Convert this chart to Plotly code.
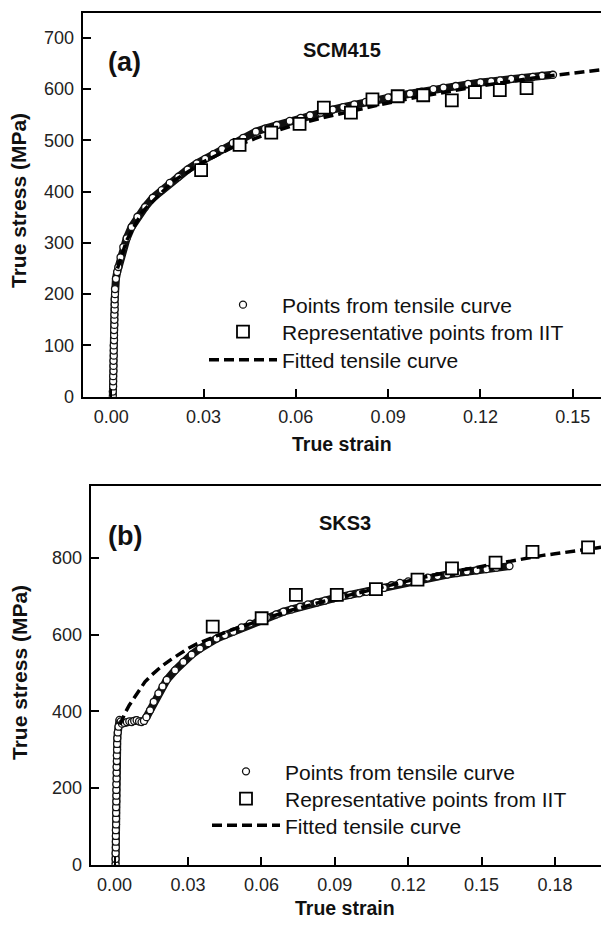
import plotly.graph_objects as go

# ---------------- data: panel (a) SCM415 ----------------
a_tensile_strain = [0.0005, 0.0005, 0.0006, 0.0006, 0.0006, 0.0007, 0.0007, 0.0007, 0.0008, 0.0008,
                    0.0008, 0.0009, 0.0009, 0.0009, 0.0010, 0.0010, 0.0010, 0.0011, 0.0011, 0.0011,
                    0.0012, 0.0012,
                    0.0015, 0.0019, 0.0023, 0.0030, 0.0039, 0.0050, 0.0066, 0.0085, 0.0110, 0.0135,
                    0.0164, 0.0190, 0.0218, 0.0248, 0.0278, 0.0305, 0.0332, 0.0360, 0.0395, 0.0429,
                    0.0470, 0.0500, 0.0538, 0.0580, 0.0616, 0.0646, 0.0680, 0.0720, 0.0754, 0.0790,
                    0.0827, 0.0863, 0.0900, 0.0935, 0.0971, 0.1008, 0.1047, 0.1080, 0.1120, 0.1160,
                    0.1200, 0.1235, 0.1264, 0.1300, 0.1335, 0.1370, 0.1400, 0.1436]
a_tensile_stress = [0, 10, 20, 30, 40, 50, 60, 70, 80, 90,
                    100, 110, 120, 130, 140, 150, 160, 170, 180, 190,
                    200, 210,
                    230, 243, 253, 272, 292, 309, 331, 351, 370, 388,
                    403, 417, 429, 443, 455, 464, 473, 483, 495, 505,
                    517, 523, 530, 538, 544, 549, 554, 560, 565, 570,
                    575, 580, 584, 587, 591, 595, 600, 603, 606, 610,
                    613, 615, 617, 620, 622, 624, 626, 628]
a_iit_strain = [0.0292, 0.0417, 0.0520, 0.0612, 0.0691, 0.0779, 0.0849, 0.0931, 0.1014,
                0.1107, 0.1182, 0.1263, 0.1350]
a_iit_stress = [442, 491, 515, 532, 564, 554, 580, 586, 588, 578, 594, 598, 602]
a_fit_strain = [0.0020, 0.0050, 0.0100, 0.0200, 0.0300, 0.0400, 0.0500, 0.0600, 0.0700,
                0.0800, 0.0900, 0.1000, 0.1100, 0.1200, 0.1300, 0.1400, 0.1500, 0.1600]
a_fit_stress = [250, 305, 360, 420, 458, 488, 511, 531, 546,
                560, 573, 585, 596, 606, 615, 624, 631, 638]

# ---------------- data: panel (b) SKS3 ----------------
b_tensile_strain = [0.0004, 0.0004, 0.0004, 0.0005, 0.0005, 0.0005, 0.0005, 0.0006, 0.0006, 0.0006,
                    0.0006, 0.0007, 0.0007, 0.0007, 0.0007, 0.0008, 0.0008, 0.0008, 0.0009, 0.0009,
                    0.0010, 0.0010, 0.0011, 0.0013,
                    0.0016, 0.0020, 0.0025, 0.0030, 0.0040, 0.0050, 0.0060, 0.0070, 0.0080, 0.0090,
                    0.0100, 0.0110, 0.0120, 0.0130, 0.0145, 0.0160, 0.0179, 0.0196, 0.0213, 0.0247,
                    0.0281, 0.0315, 0.0349, 0.0383, 0.0417, 0.0451, 0.0485, 0.0519, 0.0553, 0.0588,
                    0.0622, 0.0660, 0.0690, 0.0724, 0.0758, 0.0790, 0.0826, 0.0860, 0.0894, 0.0930,
                    0.0962, 0.1000, 0.1030, 0.1064, 0.1100, 0.1132, 0.1166, 0.1200, 0.1240, 0.1280,
                    0.1320, 0.1360, 0.1400, 0.1440, 0.1480, 0.1520, 0.1560, 0.1614]
b_tensile_stress = [0, 15, 30, 45, 60, 75, 90, 105, 120, 135,
                    150, 165, 180, 195, 210, 225, 240, 255, 270, 285,
                    300, 315, 330, 345,
                    360, 378, 374, 368, 370, 372, 374, 372, 375, 377,
                    374, 372, 375, 385, 403, 425, 447, 465, 482, 507,
                    529, 548, 564, 578, 590, 599, 608, 619, 629, 637,
                    645, 653, 660, 666, 673, 679, 684, 689, 695, 700,
                    704, 708, 712, 717, 722, 729, 735, 739, 744, 749,
                    753, 757, 761, 765, 768, 771, 775, 779]
b_iit_strain = [0.0401, 0.0601, 0.0741, 0.0908, 0.1068, 0.1238, 0.1379, 0.1557, 0.1708, 0.1935]
b_iit_stress = [621, 643, 704, 704, 719, 744, 773, 788, 816, 828]
b_fit_strain = [0.0022, 0.0030, 0.0042, 0.0060, 0.0083, 0.0104, 0.0124, 0.0150, 0.0193, 0.0230,
                0.0267, 0.0300, 0.0336, 0.0380, 0.0420, 0.0460, 0.0500, 0.0550, 0.0600, 0.0650,
                0.0700, 0.0750, 0.0800, 0.0850, 0.0900, 0.0950, 0.1000, 0.1050, 0.1100, 0.1150,
                0.1200, 0.1250, 0.1300, 0.1350, 0.1400, 0.1450, 0.1500, 0.1550, 0.1600, 0.1650,
                0.1700, 0.1750, 0.1800, 0.1850, 0.1900, 0.1988]
b_fit_stress = [365, 378, 395, 416, 438, 458, 477, 494, 518, 535,
                551, 564, 576, 588, 598, 608, 617, 628, 640, 650,
                660, 669, 678, 686, 695, 702, 710, 718, 726, 734,
                741, 748, 755, 761, 767, 773, 779, 785, 791, 797,
                802, 807, 811, 816, 820, 828]

a_xticks = [0.00, 0.03, 0.06, 0.09, 0.12, 0.15]
a_yticks = [0, 100, 200, 300, 400, 500, 600, 700]
b_xticks = [0.00, 0.03, 0.06, 0.09, 0.12, 0.15, 0.18]
b_yticks = [0, 200, 400, 600, 800]

legend_names = ["Points from tensile curve", "Representative points from IIT", "Fitted tensile curve"]

W, H = 601, 927
FONT = "Liberation Sans, Arial, Helvetica, sans-serif"


def px_x(p):
    return p / W


def px_y(p):
    return 1 - p / H


fig = go.Figure()


def add_panel(xs, ys, ix, iy, fx, fy, xaxis, yaxis, legends):
    # dark band under the densely packed tensile circles
    fig.add_trace(go.Scatter(x=xs, y=ys, mode="lines", xaxis=xaxis, yaxis=yaxis,
                             line=dict(color="#111", width=8), showlegend=False,
                             hoverinfo="skip"))
    fig.add_trace(go.Scatter(x=xs, y=ys, mode="markers", xaxis=xaxis, yaxis=yaxis,
                             name=legend_names[0], legend=legends[0],
                             marker=dict(symbol="circle", size=7, color="white",
                                         line=dict(color="#111", width=1.3))))
    fig.add_trace(go.Scatter(x=fx, y=fy, mode="lines", xaxis=xaxis, yaxis=yaxis,
                             name=legend_names[2], legend=legends[2],
                             line=dict(color="black", width=3.5, dash="10px,5px")))
    fig.add_trace(go.Scatter(x=ix, y=iy, mode="markers", xaxis=xaxis, yaxis=yaxis,
                             name=legend_names[1], legend=legends[1],
                             marker=dict(symbol="square", size=12, color="white",
                                         line=dict(color="black", width=1.8))))


add_panel(a_tensile_strain, a_tensile_stress, a_iit_strain, a_iit_stress,
          a_fit_strain, a_fit_stress, "x", "y", ["legend", "legend3", "legend4"])
add_panel(b_tensile_strain, b_tensile_stress, b_iit_strain, b_iit_stress,
          b_fit_strain, b_fit_stress, "x2", "y2", ["legend2", "legend5", "legend6"])

axis_common = dict(showgrid=False, zeroline=False, showline=True, linecolor="black",
                   linewidth=2, ticks="inside", ticklen=8, tickwidth=1.5, tickcolor="black",
                   automargin=False,
                   tickfont=dict(family=FONT, size=18, color="#222"))


def legend_at(xpx, ypx):
    return dict(x=px_x(xpx), y=px_y(ypx), xanchor="left", yanchor="middle",
                bgcolor="rgba(0,0,0,0)", itemwidth=68, borderwidth=0,
                font=dict(family=FONT, size=21, color="#111"))


fig.update_layout(
    width=W, height=H,
    margin=dict(l=0, r=0, t=0, b=0, pad=0, autoexpand=False),
    paper_bgcolor="white", plot_bgcolor="white",
    font=dict(family=FONT, color="black"),
    xaxis=dict(domain=[px_x(82.7), 1], range=[-0.0093, 0.1592], tickvals=a_xticks,
               tickformat=".2f", mirror=True, anchor="y", ticklabelstandoff=3, **axis_common),
    yaxis=dict(domain=[px_y(396.7), px_y(12.7)], range=[0, 749], tickvals=a_yticks,
               anchor="x", ticklabelstandoff=3, **axis_common),
    xaxis2=dict(domain=[px_x(90.7), 1], range=[-0.00977, 0.1988], tickvals=b_xticks,
                tickformat=".2f", mirror=True, anchor="y2", ticklabelstandoff=3, **axis_common),
    yaxis2=dict(domain=[px_y(864.7), px_y(486)], range=[0, 988], tickvals=b_yticks,
                anchor="x2", ticklabelstandoff=3, **axis_common),
    legend=legend_at(204, 305),
    legend3=legend_at(204, 332),
    legend4=legend_at(204, 360),
    legend2=legend_at(207, 771.7),
    legend5=legend_at(207, 799),
    legend6=legend_at(207, 825.7),
)

annots = [
    dict(text="<b>(a)</b>", x=px_x(106), y=px_y(62), xanchor="left", yanchor="middle", size=27),
    dict(text="<b>SCM415</b>", x=px_x(342), y=px_y(50), xanchor="center", yanchor="middle", size=20),
    dict(text="<b>True strain</b>", x=px_x(342), y=px_y(444), xanchor="center", yanchor="middle", size=19.5),
    dict(text="<b>True stress (MPa)</b>", x=px_x(19), y=px_y(201), xanchor="center", yanchor="middle",
         size=21, angle=-90),
    dict(text="<b>(b)</b>", x=px_x(106), y=px_y(536), xanchor="left", yanchor="middle", size=27),
    dict(text="<b>SKS3</b>", x=px_x(344.5), y=px_y(523), xanchor="center", yanchor="middle", size=20),
    dict(text="<b>True strain</b>", x=px_x(345), y=px_y(908), xanchor="center", yanchor="middle", size=19.5),
    dict(text="<b>True stress (MPa)</b>", x=px_x(19), y=px_y(673), xanchor="center", yanchor="middle",
         size=21, angle=-90),
]
for a in annots:
    fig.add_annotation(text=a["text"], x=a["x"], y=a["y"], xref="paper", yref="paper",
                       xanchor=a["xanchor"], yanchor=a["yanchor"], showarrow=False,
                       textangle=a.get("angle", 0),
                       font=dict(family=FONT, size=a["size"], color="#111"))

fig.write_html("out.html")
